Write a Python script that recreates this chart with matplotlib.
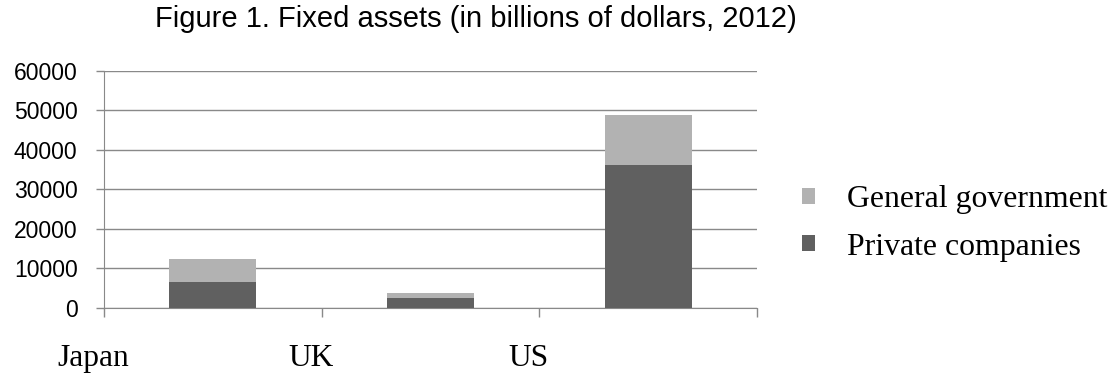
import numpy as np
import matplotlib
matplotlib.use('Agg')
import matplotlib.pyplot as plt
import matplotlib.transforms as mtransforms

countries = ['Japan', 'UK', 'US']
private_companies = [6580, 2530, 36100]
general_government = [5740, 1180, 12600]
y_ticks = [0, 10000, 20000, 30000, 40000, 50000, 60000]

grid_col = '#898989'
dark = '#606060'
light = '#b2b2b2'

fig = plt.figure(figsize=(11.2, 3.74), dpi=100)
ax = fig.add_axes([104/1120, 1 - 307.67/374, (757-104)/1120, (307.67-70.67)/374])

x = np.arange(len(countries))
b1 = ax.bar(x, private_companies, width=0.4, color=dark, label='Private companies', zorder=3)
b2 = ax.bar(x, general_government, width=0.4, bottom=private_companies, color=light,
            label='General government', zorder=3)

ax.set_xlim(-0.5, 2.5)
ax.set_ylim(0, 60000)
ax.set_yticks(y_ticks)
ax.set_yticklabels([str(v) for v in y_ticks], fontfamily='Liberation Sans', fontsize=16.5)
ax.set_xticks(np.arange(len(countries) + 1) - 0.5)
ax.set_xticklabels([])
ax.yaxis.grid(True, color=grid_col, linewidth=1.0, zorder=0)
ax.set_axisbelow(True)
ax.tick_params(axis='y', length=6, color=grid_col, width=1.0, pad=13)
ax.tick_params(axis='x', length=6.5, color=grid_col, width=1.0)
for s in ['top', 'right']:
    ax.spines[s].set_visible(False)
ax.spines['left'].set_color(grid_col)
ax.spines['bottom'].set_color(grid_col)

# category labels sit near the tick marks, not under the bars
trans = mtransforms.blended_transform_factory(ax.transData, fig.transFigure)
for i, name in enumerate(countries):
    ax.text(i - 0.55, 8/374, name, transform=trans, ha='center', va='baseline',
            fontfamily='Liberation Serif', fontsize=22.7, clip_on=False)

fig.text(476/1120, 1 - 26.7/374, 'Figure 1. Fixed assets (in billions of dollars, 2012)',
         ha='center', va='baseline', fontfamily='Liberation Sans', fontsize=21)

fig.legend([b2, b1], ['General government', 'Private companies'],
           loc='center left', bbox_to_anchor=(802/1120, 1 - 223.5/374), frameon=False,
           prop={'family': 'Liberation Serif', 'size': 22.9},
           handlelength=0.41, handleheight=0.41, handletextpad=1.0, labelspacing=0.58,
           borderpad=0, borderaxespad=0)

fig.savefig('out.png', dpi=100)
